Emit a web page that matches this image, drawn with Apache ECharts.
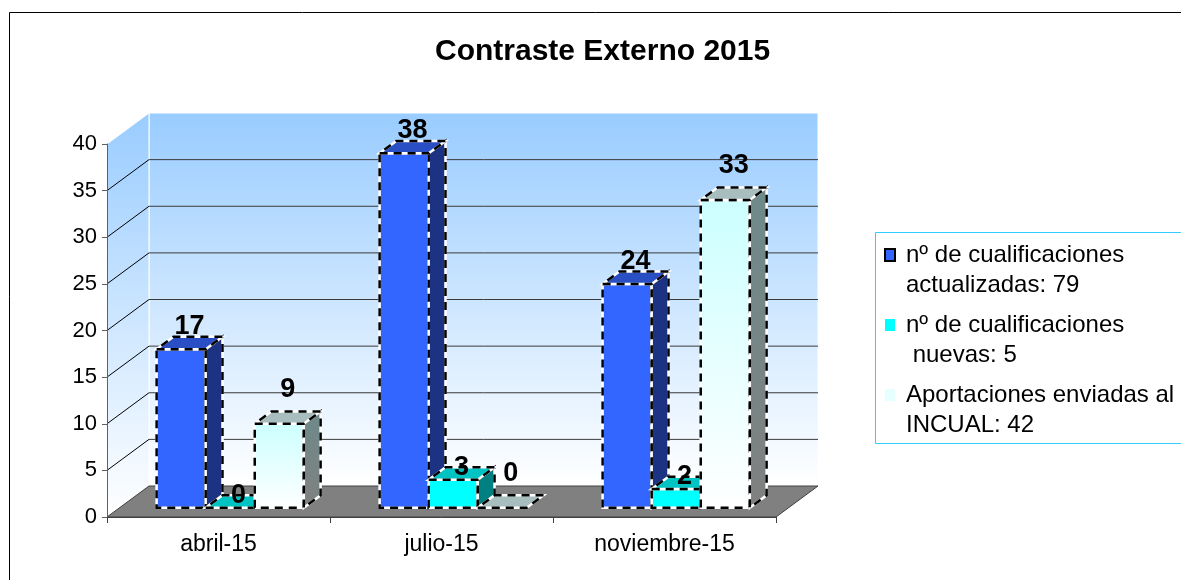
<!DOCTYPE html>
<html>
<head>
<meta charset="utf-8">
<script src="https://cdn.jsdelivr.net/npm/echarts@6/dist/echarts.min.js"></script>
<style>
html, body { margin: 0; padding: 0; background: #fff; }
#chart { width: 1181px; height: 580px; }
</style>
</head>
<body>
<div id="chart"></div>
<script>
// datos
const categories = ['abril-15', 'julio-15', 'noviembre-15'];
const actualizadas = [17, 38, 24];
const nuevas = [0, 3, 2];
const aportaciones = [9, 0, 33];
const yTicks = [0, 5, 10, 15, 20, 25, 30, 35, 40];
const seriesNames = [
  'nº de cualificaciones\nactualizadas: 79',
  'nº de cualificaciones\n nuevas: 5',
  'Aportaciones enviadas al\nINCUAL: 42'
];

// profundidad del efecto 3D (px)
const DX = 42, DY = -31;
const FONT = '"Liberation Sans", Arial, sans-serif';

const chart = echarts.init(document.getElementById('chart'));

function grad(c1, c2) {
  return new echarts.graphic.LinearGradient(0, 0, 0, 1, [
    { offset: 0, color: c1 },
    { offset: 1, color: c2 }
  ]);
}

// paredes, suelo y lineas de cuadricula
function renderWalls(params, api) {
  const cs = params.coordSys;
  const left = cs.x, right = cs.x + cs.width;
  const y0 = api.coord([0, 0])[1];
  const yMax = api.coord([0, yTicks[yTicks.length - 1]])[1];
  const children = [];
  children.push({
    type: 'polygon',
    shape: { points: [[left + DX, yMax + DY], [right + DX, yMax + DY], [right + DX, y0 + DY], [left + DX, y0 + DY]] },
    style: { fill: grad('#99CCFF', '#FFFFFF'), stroke: '#FFFFFF', lineWidth: 1 }
  });
  children.push({
    type: 'polygon',
    shape: { points: [[left, yMax], [left + DX, yMax + DY], [left + DX, y0 + DY], [left, y0]] },
    style: { fill: grad('#99CCFF', '#FFFFFF'), stroke: '#FFFFFF', lineWidth: 1 }
  });
  yTicks.forEach(function (t, i) {
    if (i === 0 || i === yTicks.length - 1) return;
    const y = api.coord([0, t])[1];
    children.push({ type: 'line', shape: { x1: left + DX, y1: y + DY, x2: right + DX, y2: y + DY }, style: { stroke: '#3a3a3a', lineWidth: 1 } });
    children.push({ type: 'line', shape: { x1: left, y1: y, x2: left + DX, y2: y + DY }, style: { stroke: '#000', lineWidth: 1 } });
  });
  children.push({
    type: 'polygon',
    shape: { points: [[left, y0], [left + DX, y0 + DY], [right + DX, y0 + DY], [right, y0]] },
    style: { fill: '#808080', stroke: '#404040', lineWidth: 1 }
  });
  return { type: 'group', children: children };
}

function face(points, fill) {
  return [
    { type: 'polygon', shape: { points: points }, style: { fill: fill, stroke: '#FFFFFF', lineWidth: 2.5 } },
    { type: 'polygon', shape: { points: points }, style: { fill: 'none', stroke: '#000', lineWidth: 2.5, lineDash: [8, 6] } }
  ];
}

// barras 3D
function makeBar(idx, colors, labelDy) {
  return function (params, api) {
    const cat = api.value(0), v = api.value(1);
    const base = api.coord([cat, 0]);
    const top = api.coord([cat, v])[1];
    const b = base[1];
    const band = api.size([1, 0])[0];
    const bw = band * 0.22;
    const x = base[0] - band / 2 + band * 0.166 + idx * bw;
    const fx = DX * 0.3, fy = DY * 0.3, bx = DX * 0.7, by = DY * 0.7;
    const front = [[x + fx, top + fy], [x + bw + fx, top + fy], [x + bw + fx, b + fy], [x + fx, b + fy]];
    const topF = [[x + fx, top + fy], [x + bw + fx, top + fy], [x + bw + bx, top + by], [x + bx, top + by]];
    const side = [[x + bw + fx, top + fy], [x + bw + bx, top + by], [x + bw + bx, b + by], [x + bw + fx, b + fy]];
    const children = [].concat(face(front, colors.front), face(side, colors.side), face(topF, colors.top));
    children.push({
      type: 'text',
      style: {
        text: String(v),
        x: x + bw / 2 + (fx + bx) / 2,
        y: top + by + labelDy,
        align: 'center',
        verticalAlign: 'middle',
        font: 'bold 27px ' + FONT,
        fill: '#000'
      }
    });
    return { type: 'group', children: children };
  };
}

const styles = [
  { front: '#3366FF', top: '#2A4EC4', side: '#1B3382' },
  { front: '#00FFFF', top: '#00C4C4', side: '#008080' },
  { front: grad('#CCFFFF', '#FFFFFF'), top: '#A8BEBE', side: grad('#6E8A8A', '#808080') }
];
const labelOffsets = [-10, 0, -22];
const values = [actualizadas, nuevas, aportaciones];

const barSeries = values.map(function (arr, i) {
  return {
    type: 'custom',
    name: seriesNames[i],
    z: 3,
    renderItem: makeBar(i, styles[i], labelOffsets[i]),
    encode: { x: 0, y: 1 },
    data: arr.map(function (v, c) { return [c, v]; })
  };
});

const option = {
  animation: false,
  backgroundColor: '#FFFFFF',
  title: {
    text: 'Contraste Externo 2015',
    left: 435,
    top: 37,
    padding: 0,
    textStyle: { fontSize: 30, fontWeight: 'bold', fontFamily: FONT, color: '#000' }
  },
  grid: { left: 107, right: 405, top: 144, bottom: 63 },
  xAxis: {
    type: 'category',
    data: categories,
    z: 5,
    axisLine: { lineStyle: { color: '#404040', width: 1 } },
    axisTick: { show: true, length: 6, lineStyle: { color: '#404040' } },
    axisLabel: { fontSize: 23, margin: 16, color: '#000', fontFamily: FONT }
  },
  yAxis: {
    type: 'value',
    min: 0,
    max: 40,
    interval: 5,
    z: 5,
    axisLine: { show: true, lineStyle: { color: '#606060' } },
    axisTick: { show: true, length: 5, lineStyle: { color: '#606060' } },
    splitLine: { show: false },
    axisLabel: { fontSize: 22, margin: 10, color: '#000', fontFamily: FONT }
  },
  legend: {
    orient: 'vertical',
    left: 884,
    top: 210,
    padding: 0,
    itemWidth: 10,
    itemHeight: 12,
    itemGap: -20,
    // linea vacia delante para alinear el icono con la primera linea
    formatter: function (name) { return '\n' + name; },
    textStyle: { fontSize: 24, lineHeight: 30, color: '#000', fontFamily: FONT, padding: [0, 0, 0, 6] },
    data: [
      { name: seriesNames[0], icon: 'rect', itemStyle: { color: '#3366FF', borderColor: '#000', borderWidth: 2 } },
      { name: seriesNames[1], icon: 'rect', itemStyle: { color: '#00FFFF', borderColor: '#000', borderWidth: 0 } },
      { name: seriesNames[2], icon: 'rect', itemStyle: { color: '#E6FFFF', borderColor: '#000', borderWidth: 0 } }
    ]
  },
  graphic: [
    { type: 'rect', shape: { x: 9.5, y: 12.5, width: 1200, height: 600 }, style: { fill: 'none', stroke: '#000', lineWidth: 1 }, silent: true },
    { type: 'rect', shape: { x: 875.5, y: 232.5, width: 330, height: 211 }, style: { fill: 'none', stroke: '#33CCFF', lineWidth: 1 }, silent: true }
  ],
  series: [
    {
      type: 'custom',
      name: 'paredes',
      z: 1,
      renderItem: renderWalls,
      encode: { x: 0, y: 1 },
      data: [[0, 0]]
    }
  ].concat(barSeries)
};

chart.setOption(option);
</script>
</body>
</html>
